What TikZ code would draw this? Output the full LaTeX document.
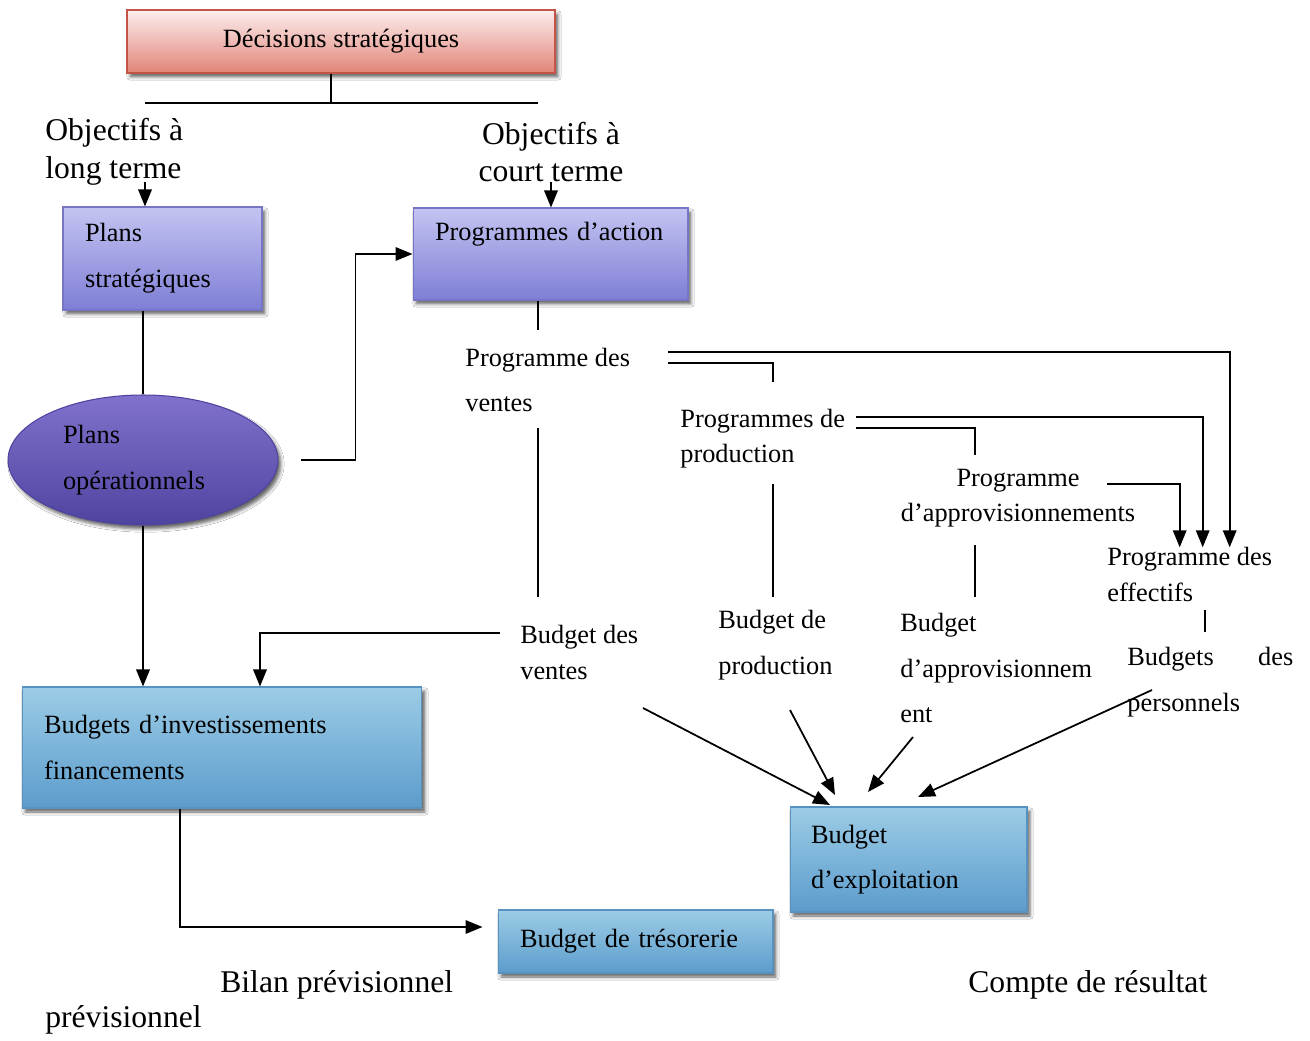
\documentclass[tikz,border=0pt]{standalone}
\usepackage{fontspec}
\setmainfont{Liberation Serif}
\usetikzlibrary{arrows.meta,positioning,shadows.blur,shapes.geometric}
\definecolor{DecTop}{RGB}{252,238,238}
\definecolor{DecBot}{RGB}{226,132,120}
\definecolor{DecLine}{RGB}{196,84,70}
\definecolor{PlanTop}{RGB}{196,196,242}
\definecolor{PlanBot}{RGB}{126,126,214}
\definecolor{PlanLine}{RGB}{118,118,196}
\definecolor{OpsTop}{RGB}{128,114,204}
\definecolor{OpsBot}{RGB}{78,68,160}
\definecolor{BudTop}{RGB}{156,204,230}
\definecolor{BudBot}{RGB}{92,156,204}
\definecolor{BudLine}{RGB}{88,146,192}
\tikzset{
  decbox/.style={draw=DecLine,line width=0.8pt,top color=DecTop,bottom color=DecBot,
    minimum width=8.56cm,minimum height=1.26cm,align=center,font=\fontsize{15}{18}\selectfont,
    blur shadow={shadow xshift=0.6mm,shadow yshift=-0.8mm,shadow opacity=60}},
  planbox/.style={draw=PlanLine,line width=0.6pt,top color=PlanTop,bottom color=PlanBot,
    inner xsep=0.44cm,align=left,font=\fontsize{15}{26}\selectfont,
    blur shadow={shadow xshift=0.6mm,shadow yshift=-0.8mm,shadow opacity=60}},
  budbox/.style={draw=BudLine,line width=0.6pt,top color=BudTop,bottom color=BudBot,
    inner xsep=0.44cm,align=left,font=\fontsize{15}{26}\selectfont,
    blur shadow={shadow xshift=0.6mm,shadow yshift=-0.8mm,shadow opacity=60}},
  opsnode/.style={ellipse,draw=OpsBot,line width=0.6pt,top color=OpsTop,bottom color=OpsBot,
    inner sep=0pt,align=left,font=\fontsize{15}{26}\selectfont,
    blur shadow={shadow xshift=0.6mm,shadow yshift=-0.8mm,shadow opacity=60}},
  txt/.style={inner sep=0pt,align=left,font=\fontsize{15}{20}\selectfont},
  txtwide/.style={inner sep=0pt,align=left,font=\fontsize{15}{26}\selectfont},
  bigtxt/.style={inner sep=0pt,align=left,font=\fontsize{18}{21.6}\selectfont},
  conn/.style={line width=1pt},
  arr/.style={-{Triangle[length=3.4mm,width=2.7mm]},line width=1pt},
}

\begin{document}
\begin{tikzpicture}[x=0.02cm,y=-0.02cm]
\useasboundingbox[fill=white] (0,0) rectangle (1310,1040);

% boxes
\node[decbox] (dec) at (341,41.5) {Décisions stratégiques};
\node[planbox,text width=3.1cm,minimum height=2.06cm] (strat) at (162.5,258.5) {Plans\\stratégiques};
\node[planbox,text width=4.62cm,minimum height=1.84cm] (action) at (550.5,254) {Programmes d’action\\\mbox{}};
\node[opsnode,text width=3.2cm,minimum width=5.4cm,minimum height=2.6cm] (ops) at (143,460) {Plans\\opérationnels};
\node[budbox,text width=7.12cm,minimum height=2.42cm] (inv) at (222,747.5) {Budgets d’investissements\\financements};
\node[budbox,inner xsep=0.42cm,text width=3.9cm,minimum height=2.1cm] (exp) at (908.5,859.5) {Budget\\d’exploitation};
\node[budbox,text width=4.62cm,minimum height=1.26cm] (treso) at (635.5,941.5) {Budget de trésorerie};

% labels
\node[bigtxt,anchor=west] (objlong) at (45,152) {Objectifs à\\long terme};
\node[bigtxt,align=center] (objcourt) at (551,152) {Objectifs à\\court terme};
\node[txtwide,anchor=west] (vendprog) at (465,380) {Programme des\\ventes};
\node[txt,anchor=west] (prodprog) at (680,438.5) {Programmes de\\production};
\node[txt,align=center] (approprog) at (1018,498.5) {Programme\\d’approvisionnements};
\node[txt,anchor=west] (effprog) at (1107,574.5) {Programme des\\effectifs};
\node[txt,anchor=west] (vendbud) at (520,652.5) {Budget des\\ventes};
\node[txtwide,anchor=west] (prodbud) at (718,645) {Budget de\\production};
\node[txtwide,anchor=west] (appbud) at (900,668) {Budget\\d’approvisionnem\\ent};
\node[txtwide,anchor=west,text width=3.32cm] (persbud) at (1127,682) {Budgets\hfill des\\personnels};
\node[bigtxt,anchor=west] (bilan) at (220,985) {Bilan prévisionnel};
\node[bigtxt,anchor=west] (bilanb) at (45,1020) {prévisionnel};
\node[bigtxt,anchor=west] (compte) at (968,985) {Compte de résultat};

% free ends
\coordinate (barL) at (145,103);
\coordinate (barR) at (538,103);
\coordinate (olong) at (145,182);
\coordinate (ocourt) at (551,182);
\coordinate (v1) at (538,330);
\coordinate (v2) at (538,428);
\coordinate (v3) at (538,597);
\coordinate (v4) at (500,633);
\coordinate (p1) at (668,352);
\coordinate (p2) at (668,363);
\coordinate (q1) at (773,382);
\coordinate (q2) at (856,417);
\coordinate (q3) at (856,428);
\coordinate (q4) at (975,455);
\coordinate (q5) at (773,484);
\coordinate (q6) at (773,597);
\coordinate (r1) at (1107,484);
\coordinate (r2) at (975,545);
\coordinate (r3) at (975,597);
\coordinate (s1) at (1205,610);
\coordinate (s2) at (1205,632);
\coordinate (e1) at (643,708);
\coordinate (e2) at (790,710);
\coordinate (e3) at (913,737);
\coordinate (e4) at (1152,690);
\coordinate (f1) at (830,805);
\coordinate (f2) at (835,795);
\coordinate (f3) at (868,792);
\coordinate (f4) at (918,797);

% connectors
\draw[conn] (dec.south -| 331,0) -- (331,103);
\draw[conn] (barL) -- (barR);
\draw[arr] (olong) -- (olong |- strat.north);
\draw[arr] (ocourt) -- (ocourt |- action.north);
\draw[conn] (strat.south -| ops.north) -- (ops.north);
\draw[arr] ([xshift=0.44cm]ops.east) -- ++(55,0) |- (action.west);
\draw[arr] (ops.south) -- (ops.south |- inv.north);
\draw[conn] (v1 |- action.south) -- (v1);
\draw[conn] (v2) -- (v3);
\draw[arr] (v4) -| ([xshift=0.76cm]inv.north);
\draw[arr] (p1) -| ([xshift=0.8cm]effprog.north);
\draw[conn] (p2) -| (q1);
\draw[arr] (q2) -| ([xshift=0.26cm]effprog.north);
\draw[conn] (q3) -| (q4);
\draw[conn] (q5) -- (q6);
\draw[arr] (r1) -| ([xshift=-0.2cm]effprog.north);
\draw[conn] (r2) -- (r3);
\draw[conn] (s1) -- (s2);
\draw[arr] (e1) -- (f1);
\draw[arr] (e2) -- (f2);
\draw[arr] (e3) -- (f3);
\draw[arr] (e4) -- (f4);
\draw[arr] ([xshift=-0.84cm]inv.south) |- ([shift={(-0.3cm,0.29cm)}]treso.west);
\end{tikzpicture}
\end{document}
